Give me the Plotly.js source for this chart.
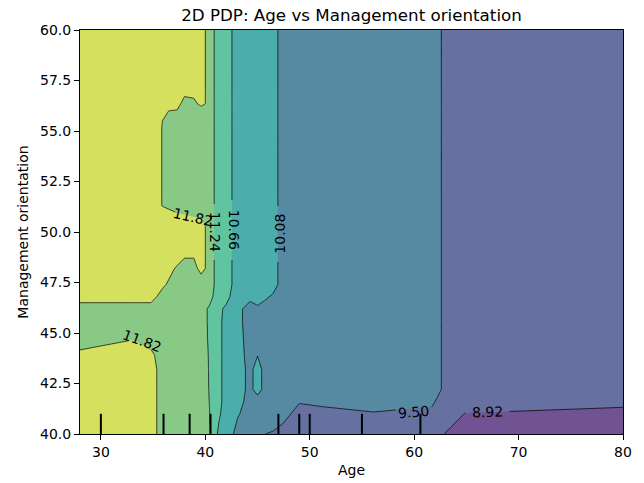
<!DOCTYPE html>
<html>
<head>
<meta charset="utf-8">
<script src="https://cdn.plot.ly/plotly-3.0.1.min.js"></script>
<style>
  html, body { margin: 0; padding: 0; background: #fff; }
  #chart { width: 644px; height: 483px; }
</style>
</head>
<body>
<div id="chart"></div>
<script>
// Grid of Age values (x) where the partial dependence was evaluated
const ageGrid = [28, 33, 34.8, 35.9, 37.3, 38.0, 38.9, 39.6, 40.4, 41.3, 42.0, 43.1, 44.3,
                 45.0, 45.7, 46.5, 47.4, 49.0, 51.3, 56.1, 61.7, 62.2, 63.0, 64.9, 69.2, 80];

// Grid of Management orientation values (y)
const mgmtGrid = [40.0, 41.0, 41.6, 42.2, 43.2, 43.9, 44.8, 45.6, 46.2, 46.8, 47.4,
                  48.2, 49.0, 50.3, 50.8, 51.3, 55.2, 56.0, 56.35, 56.8, 60.0];

// Averaged prediction, one row per Management orientation value
const pdRows = [
  [12.11, 12.11, 12.11, 11.53, 11.53, 11.53, 11.53, 11.53, 11.30, 10.53, 10.37, 9.91, 9.79, 9.79, 9.505, 9.45, 9.21, 9.21, 9.21, 9.21, 9.21, 9.21, 8.90, 8.63, 8.63, 8.63],
  [12.11, 12.11, 12.11, 11.53, 11.53, 11.53, 11.53, 11.53, 11.25, 10.75, 10.37, 10.12, 9.88, 9.79, 9.79, 9.79, 9.79, 9.21, 9.21, 9.45, 9.21, 9.21, 9.21, 8.90, 8.85, 8.59],
  [12.11, 12.11, 12.11, 11.53, 11.53, 11.53, 11.53, 11.53, 11.23, 10.75, 10.525, 10.30, 9.84, 9.73, 9.79, 9.79, 9.79, 9.55, 9.71, 9.79, 9.71, 9.35, 9.21, 9.21, 9.21, 9.21],
  [12.11, 12.11, 12.11, 11.53, 11.53, 11.53, 11.53, 11.53, 11.21, 10.75, 10.525, 10.37, 9.90, 10.37, 9.86, 9.79, 9.79, 9.79, 9.79, 9.79, 9.79, 9.79, 9.21, 9.21, 9.21, 9.21],
  [12.11, 12.11, 12.11, 11.53, 11.53, 11.53, 11.53, 11.53, 11.20, 10.75, 10.525, 10.37, 9.90, 10.37, 9.86, 9.79, 9.79, 9.79, 9.79, 9.79, 9.79, 9.79, 9.21, 9.21, 9.21, 9.21],
  [11.94, 12.02, 11.95, 11.53, 11.53, 11.53, 11.53, 11.53, 11.19, 10.75, 10.525, 10.37, 9.82, 10.06, 9.79, 9.79, 9.79, 9.79, 9.79, 9.79, 9.79, 9.79, 9.21, 9.21, 9.21, 9.21],
  [11.53, 11.78, 11.53, 11.53, 11.53, 11.53, 11.53, 11.53, 11.15, 10.75, 10.525, 10.37, 9.73, 9.79, 9.79, 9.79, 9.79, 9.79, 9.79, 9.79, 9.79, 9.79, 9.21, 9.21, 9.21, 9.21],
  [11.53, 11.53, 11.53, 11.53, 11.53, 11.53, 11.53, 11.53, 11.13, 10.75, 10.525, 10.37, 9.61, 9.79, 9.79, 9.79, 9.79, 9.79, 9.79, 9.79, 9.79, 9.79, 9.21, 9.21, 9.21, 9.21],
  [11.53, 11.53, 11.53, 11.53, 11.53, 11.53, 11.53, 11.53, 11.13, 10.75, 10.58, 10.37, 9.63, 9.97, 9.79, 9.79, 9.79, 9.79, 9.79, 9.79, 9.79, 9.79, 9.21, 9.21, 9.21, 9.21],
  [12.11, 12.11, 12.11, 11.53, 11.53, 11.53, 11.53, 11.53, 11.53, 10.74, 10.80, 10.37, 10.37, 10.37, 10.21, 9.97, 9.79, 9.79, 9.79, 9.79, 9.79, 9.79, 9.21, 9.21, 9.21, 9.21],
  [12.11, 12.11, 12.11, 11.96, 11.40, 11.53, 11.53, 11.30, 11.53, 10.95, 10.95, 10.37, 10.37, 10.37, 10.37, 10.37, 9.79, 9.79, 9.79, 9.79, 9.79, 9.79, 9.21, 9.21, 9.21, 9.21],
  [12.11, 12.11, 12.11, 12.11, 11.76, 11.53, 11.53, 12.11, 11.53, 10.95, 10.95, 10.37, 10.37, 10.37, 10.37, 10.37, 9.79, 9.79, 9.79, 9.79, 9.79, 9.79, 9.21, 9.21, 9.21, 9.21],
  [12.11, 12.11, 12.11, 12.11, 12.11, 11.99, 11.99, 12.11, 11.53, 10.95, 10.95, 10.37, 10.37, 10.37, 10.37, 10.37, 9.79, 9.79, 9.79, 9.79, 9.79, 9.79, 9.21, 9.21, 9.21, 9.21],
  [12.11, 12.11, 12.11, 12.11, 12.11, 12.11, 12.11, 12.11, 11.53, 10.95, 10.95, 10.37, 10.37, 10.37, 10.37, 10.37, 9.79, 9.79, 9.79, 9.79, 9.79, 9.79, 9.21, 9.21, 9.21, 9.21],
  [12.11, 12.11, 12.11, 12.11, 11.94, 11.86, 11.78, 11.70, 11.53, 10.95, 10.95, 10.37, 10.37, 10.37, 10.37, 10.37, 9.79, 9.79, 9.79, 9.79, 9.79, 9.79, 9.21, 9.21, 9.21, 9.21],
  [12.11, 12.11, 12.11, 11.80, 11.53, 11.53, 11.53, 11.53, 11.53, 10.95, 10.95, 10.37, 10.37, 10.37, 10.37, 10.37, 9.79, 9.79, 9.79, 9.79, 9.79, 9.79, 9.21, 9.21, 9.21, 9.21],
  [12.11, 12.11, 12.11, 11.80, 11.53, 11.53, 11.53, 11.53, 11.53, 10.95, 10.95, 10.37, 10.37, 10.37, 10.37, 10.37, 9.79, 9.79, 9.79, 9.79, 9.79, 9.79, 9.21, 9.21, 9.21, 9.21],
  [12.11, 12.11, 12.11, 11.85, 11.78, 11.53, 11.53, 11.30, 11.53, 10.95, 10.95, 10.37, 10.37, 10.37, 10.37, 10.37, 9.79, 9.79, 9.79, 9.79, 9.79, 9.79, 9.21, 9.21, 9.21, 9.21],
  [12.11, 12.11, 12.11, 12.11, 12.11, 11.53, 11.53, 12.11, 11.53, 10.95, 10.95, 10.37, 10.37, 10.37, 10.37, 10.37, 9.79, 9.79, 9.79, 9.79, 9.79, 9.79, 9.21, 9.21, 9.21, 9.21],
  [12.11, 12.11, 12.11, 12.11, 12.11, 11.90, 12.01, 12.11, 11.53, 10.95, 10.95, 10.37, 10.37, 10.37, 10.37, 10.37, 9.79, 9.79, 9.79, 9.79, 9.79, 9.79, 9.21, 9.21, 9.21, 9.21],
  [12.11, 12.11, 12.11, 12.11, 12.11, 12.11, 12.11, 12.11, 11.53, 10.95, 10.95, 10.37, 10.37, 10.37, 10.37, 10.37, 9.79, 9.79, 9.79, 9.79, 9.79, 9.79, 9.21, 9.21, 9.21, 9.21]
];

// Contour levels (evenly spaced between the lowest and highest value)
const levels = [8.34, 8.92, 9.50, 10.08, 10.66, 11.24, 11.82, 12.40];

// Fill colour of each band between consecutive levels (viridis, softened)
const bandColors = ['#715292', '#6670a1', '#568aa3', '#4caeaa', '#5fc49f', '#88c986', '#d6e05f'];

// Deciles of Age, marked along the bottom axis
const ageDeciles = [30, 36, 38.5, 40.5, 47, 49, 50, 55, 60.6];

// Axis ticks
const mgmtTicks = [40, 42.5, 45, 47.5, 50, 52.5, 55, 57.5, 60];
const ageTicks = [30, 40, 50, 60, 70, 80];

// Inline contour labels: which level each one names
const labelLevel = [11.82, 11.82, 11.24, 10.66, 10.08, 9.50, 8.92];
// where it sits on its contour line, its rotation and the gap cut in the line
const labelAge   = [33.97, 38.80, 40.95, 42.77, 47.12, 59.98, 67.01];
const labelMgmt  = [44.60, 50.76, 50.00, 50.10, 49.90, 41.09, 41.09];
const labelAngle = [20, 13, 90, 90, -90, -5, -2];
const labelGap   = [30, 36, 56, 60, 56, 36, 44];

// Stepped colour scale: each band is sampled at its centre by the contour fill
const n = levels.length;
const colorscale = [];
bandColors.forEach((c, j) => {
  const lo = j === 0 ? 0 : (j + 0.5) / n;
  const hi = j === bandColors.length - 1 ? 1 : (j + 1.5) / n;
  colorscale.push([lo, c], [hi, c]);
});

const contour = {
  type: 'contour',
  x: ageGrid,
  y: mgmtGrid,
  z: pdRows,
  autocontour: false,
  contours: {
    start: levels[0],
    end: levels[n - 1],
    size: levels[1] - levels[0],
    coloring: 'fill',
    showlabels: false
  },
  colorscale: colorscale,
  showscale: false,
  line: { color: '#000', width: 0.7, smoothing: 0 },
  hoverinfo: 'skip'
};

const decileMarks = ageDeciles.map(d => ({
  type: 'line', xref: 'x', yref: 'y domain',
  x0: d, x1: d, y0: 0, y1: 0.05,
  line: { color: '#000', width: 2 }
}));

const labelNotes = labelLevel.map((v, i) => ({
  x: labelAge[i], y: labelMgmt[i], xref: 'x', yref: 'y',
  text: v.toFixed(2), showarrow: false,
  xanchor: 'center', yanchor: 'middle',
  textangle: labelAngle[i],
  font: { family: 'DejaVu Sans', size: 14, color: '#000' }
}));

const axisStyle = {
  ticks: 'outside', ticklen: 5, tickwidth: 1, tickcolor: '#000',
  showline: true, linecolor: '#000', linewidth: 1, mirror: true,
  showgrid: false, zeroline: false,
  tickfont: { family: 'DejaVu Sans', size: 14, color: '#000' }
};

const layout = {
  width: 644, height: 483, autosize: false,
  margin: { l: 80, r: 21, t: 30, b: 49 },
  paper_bgcolor: '#fff', plot_bgcolor: '#fff',
  font: { family: 'DejaVu Sans', size: 14, color: '#000' },
  title: {
    text: '2D PDP: Age vs Management orientation',
    font: { family: 'DejaVu Sans', size: 16.7, color: '#000' },
    x: 0.5, xref: 'paper', xanchor: 'center',
    y: 1 - 15 / 483, yref: 'container', yanchor: 'middle'
  },
  xaxis: Object.assign({}, axisStyle, {
    range: [28, 80], tickvals: ageTicks,
    title: { text: 'Age', standoff: 6, font: { family: 'DejaVu Sans', size: 14, color: '#000' } }
  }),
  yaxis: Object.assign({}, axisStyle, {
    range: [40, 60], tickvals: mgmtTicks, tickformat: '.1f',
    title: { text: 'Management orientation', standoff: 8, font: { family: 'DejaVu Sans', size: 14, color: '#000' } }
  }),
  shapes: decileMarks,
  annotations: labelNotes,
  showlegend: false
};

// Cut the contour lines where a label sits, so the text is not struck through
function cutLabelGaps(gd) {
  const ns = 'http://www.w3.org/2000/svg';
  const xa = gd._fullLayout.xaxis, ya = gd._fullLayout.yaxis;
  const svg = gd.querySelector('svg.main-svg');
  let defs = svg.querySelector('defs');
  if (!defs) { defs = document.createElementNS(ns, 'defs'); svg.insertBefore(defs, svg.firstChild); }
  const mask = document.createElementNS(ns, 'mask');
  mask.setAttribute('id', 'contour-label-gaps');
  mask.setAttribute('maskUnits', 'userSpaceOnUse');
  mask.setAttribute('x', -50); mask.setAttribute('y', -50);
  mask.setAttribute('width', 2000); mask.setAttribute('height', 2000);
  const keep = document.createElementNS(ns, 'rect');
  keep.setAttribute('x', -50); keep.setAttribute('y', -50);
  keep.setAttribute('width', 2000); keep.setAttribute('height', 2000);
  keep.setAttribute('fill', '#fff');
  mask.appendChild(keep);
  labelLevel.forEach((v, i) => {
    const cx = xa.d2p(labelAge[i]), cy = ya.d2p(labelMgmt[i]);
    const w = labelGap[i], h = 10;
    const r = document.createElementNS(ns, 'rect');
    r.setAttribute('x', cx - w / 2); r.setAttribute('y', cy - h / 2);
    r.setAttribute('width', w); r.setAttribute('height', h);
    r.setAttribute('fill', '#000');
    r.setAttribute('transform', 'rotate(' + labelAngle[i] + ' ' + cx + ' ' + cy + ')');
    mask.appendChild(r);
  });
  defs.appendChild(mask);
  gd.querySelectorAll('g.contourlines').forEach(g => g.setAttribute('mask', 'url(#contour-label-gaps)'));
}

Plotly.newPlot('chart', [contour], layout, { staticPlot: true, displayModeBar: false })
  .then(cutLabelGaps);
</script>
</body>
</html>
